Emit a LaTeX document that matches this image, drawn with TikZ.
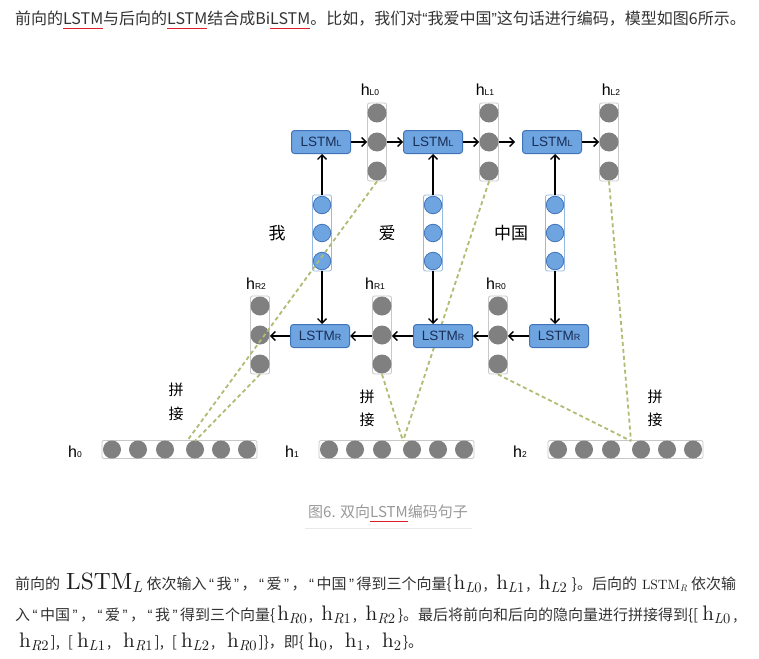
\documentclass[tikz,border=0pt]{standalone}
\usepackage{fontspec}
\newfontfamily\arial{Liberation Sans}
\newfontfamily\cjk{Noto Sans CJK SC}
\newfontfamily\lmr{lmroman10-regular.otf}[ItalicFont=lmroman10-italic.otf]
\usetikzlibrary{arrows.meta}
\definecolor{gcirc}{RGB}{128,128,128}
\definecolor{gline}{RGB}{200,200,200}
\definecolor{bfill}{RGB}{110,165,225}
\definecolor{bdraw}{RGB}{65,115,185}
\definecolor{bcol}{RGB}{150,185,225}
\definecolor{btext}{RGB}{25,45,85}
\definecolor{dashc}{RGB}{175,188,115}
\definecolor{txt}{RGB}{51,51,51}
\definecolor{mtxt}{RGB}{30,30,30}
\definecolor{capc}{RGB}{153,153,153}
\definecolor{capl}{RGB}{232,232,232}
\definecolor{ulred}{RGB}{220,30,40}
\newsavebox\myulbox
\newcommand\myul[1]{\sbox\myulbox{#1}\rlap{\textcolor{ulred}{\rule[-4.5pt]{\wd\myulbox}{0.9pt}}}\usebox\myulbox}
\newcommand\oq{{\arial “}}
\newcommand\cq{{\arial ”}}
\newcommand\poq{\makebox[10pt][c]{\arial “}}
\newcommand\pcq{\makebox[10pt][c]{\arial ”}}
\newcommand\hlab[1]{{\fontsize{16}{16}\selectfont h}{\fontsize{8.5}{9}\selectfont #1}}
\newcommand\lstmlab[1]{{\fontsize{13.5}{14}\selectfont LSTM}{\fontsize{9}{9}\selectfont #1}}
\newcommand\hv[1]{{\color{mtxt}\lmr\fontsize{21}{21}\selectfont h\raisebox{-3.5pt}{\fontsize{14.5}{14.5}\selectfont #1}}}
\newcommand\hvi[2]{\hv{\textit{#1}#2}}
\newcommand\lstmv[4]{{\color{mtxt}\lmr\fontsize{#1}{#1}\selectfont LSTM\raisebox{#4}{\fontsize{#2}{#2}\selectfont\textit{#3}}}}
\newcommand\cm{\hspace{2pt},\hspace{8.5pt}}
\newcommand\cmb{\hspace{2pt},\hspace{12pt}}
\tikzset{
  gcircle/.style={circle, fill=gcirc, minimum size=19pt, inner sep=0pt},
  bcircle/.style={circle, fill=bfill, draw=bdraw, line width=0.8pt, minimum size=17.5pt, inner sep=0pt},
  gcolumn/.style={draw=gline, line width=0.8pt, rounded corners=2pt, minimum width=19pt, minimum height=78pt, inner sep=0pt},
  bcolumn/.style={draw=bcol, line width=0.8pt, rounded corners=2pt, minimum width=19pt, minimum height=76pt, inner sep=0pt},
  lbox/.style={draw=bdraw, fill=bfill, line width=1pt, rounded corners=3pt, minimum width=59pt, minimum height=23pt, inner sep=0pt, text=btext, font=\arial},
  arr/.style={-{Straight Barb[length=4.5pt,width=9pt]}, line width=1.4pt},
  dsh/.style={draw=dashc, line width=1.8pt, dash pattern=on 4pt off 3pt},
  hbar/.style={draw=gline, line width=0.8pt, rounded corners=2pt, minimum width=155pt, minimum height=18pt, inner sep=0pt},
  bcirc/.style={circle, fill=gcirc, minimum size=18pt, inner sep=0pt},
  hlabel/.style={font=\arial, inner sep=0pt},
  word/.style={font=\cjk\fontsize{17}{17}\selectfont, inner sep=0pt},
  pj/.style={font=\cjk\fontsize{15}{15}\selectfont, inner sep=0pt},
  para/.style={font=\cjk\fontsize{15}{15}\selectfont, text=txt, inner sep=0pt, anchor=base west}
}
\begin{document}
\begin{tikzpicture}[x=1pt,y=-1pt]
\fill[white] (0,0) rectangle (759,658);
\useasboundingbox (0,0) rectangle (759,658);

% top text
\node[anchor=west, inner sep=0pt, text=txt, font=\cjk\fontsize{16}{16}\selectfont] (top) at (15,19.5) {前向的\myul{LSTM}与后向的\myul{LSTM}结合成Bi\myul{LSTM}。比如，我们对\oq 我爱中国\cq 这句话进行编码，模型如图6所示。};

% top hidden columns
\foreach \n/\x in {L0/377, L1/489, L2/609} {
  \node[gcolumn] (c\n) at (\x,142) {};
  \node[gcircle] (c\n-1) at (\x,113) {};
  \node[gcircle] (c\n-2) at (\x,142) {};
  \node[gcircle] (c\n-3) at (\x,171) {};
}
% bottom hidden columns
\foreach \n/\x in {R2/260, R1/382, R0/498} {
  \node[gcolumn] (c\n) at (\x,335) {};
  \node[gcircle] (c\n-1) at (\x,306) {};
  \node[gcircle] (c\n-2) at (\x,335) {};
  \node[gcircle] (c\n-3) at (\x,364) {};
}
% input columns
\foreach \n/\x in {1/322, 2/433, 3/555} {
  \node[bcolumn] (in\n) at (\x,233) {};
  \node[bcircle] (in\n-1) at (\x,205) {};
  \node[bcircle] (in\n-2) at (\x,233) {};
  \node[bcircle] (in\n-3) at (\x,261) {};
}

% labels
\node[hlabel] (lL0) at (370,90) {\hlab{L0}};
\node[hlabel] (lL1) at (485,90) {\hlab{L1}};
\node[hlabel] (lL2) at (611,90) {\hlab{L2}};
\node[hlabel] (lR2) at (256,284) {\hlab{R2}};
\node[hlabel] (lR1) at (375,284) {\hlab{R1}};
\node[hlabel] (lR0) at (496,284) {\hlab{R0}};

\node[word] (w1) at (277,233) {我};
\node[word] (w2) at (387,233) {爱};
\node[word] (w3) at (511,233) {中国};

% output bars
\foreach \n/\l in {0/102, 1/319, 2/548} {
  \node[hbar] (h\n) at (\l+77.5,449.5) {};
  \foreach \k/\o in {1/10, 2/36, 3/63, 4/93, 5/119, 6/145} {
    \node[bcirc] (h\n-\k) at (\l+\o,449.5) {};
  }
}
\node[hlabel] (lh0) at (75,452) {\hlab{0}};
\node[hlabel] (lh1) at (292,452) {\hlab{1}};
\node[hlabel] (lh2) at (520,452) {\hlab{2}};

\node[pj] (pj0a) at (176,390) {拼};
\node[pj] (pj0b) at (176,414) {接};
\node[pj] (pj1a) at (367,397) {拼};
\node[pj] (pj1b) at (367,420) {接};
\node[pj] (pj2a) at (655,397) {拼};
\node[pj] (pj2b) at (655,420) {接};

% dashed concatenation lines
\coordinate (m0a) at (187,441);
\coordinate (m0b) at (195,441);
\coordinate (m1) at (403,441);
\coordinate (m2) at (631,441);
\draw[dsh] (cL0.south) -- (m0a);
\draw[dsh] (cR2.south) -- (m0b);
\draw[dsh] (cL1.south) -- (m1);
\draw[dsh] (cR1.south) -- (m1);
\draw[dsh] (cL2.south) -- (m2);
\draw[dsh] (cR0.south) -- (m2);

% LSTM boxes
\node[lbox] (bL1) at (321,142) {\lstmlab{L}};
\node[lbox] (bL2) at (433,142) {\lstmlab{L}};
\node[lbox] (bL3) at (552,142) {\lstmlab{L}};
\node[lbox] (bR1) at (320,336) {\lstmlab{R}};
\node[lbox] (bR2) at (443,336) {\lstmlab{R}};
\node[lbox] (bR3) at (559,336) {\lstmlab{R}};

% arrows forward
\coordinate (tipL1) at (515,142);
\draw[arr] (bL1.east) -- (cL0.west);
\draw[arr] (cL0.east) -- (bL2.west);
\draw[arr] (bL2.east) -- (cL1.west);
\draw[arr] (cL1.east) -- (tipL1);
\draw[arr] (bL3.east) -- (cL2.west);
% arrows backward
\draw[arr] (bR3.west) -- (cR0.east |- bR3.west);
\draw[arr] (cR0.west |- bR2.east) -- (bR2.east);
\draw[arr] (bR2.west) -- (cR1.east |- bR2.west);
\draw[arr] (cR1.west |- bR1.east) -- (bR1.east);
\draw[arr] (bR1.west) -- (cR2.east |- bR1.west);
% input arrows
\draw[arr] (in1.north) -- (in1.north |- bL1.south);
\draw[arr] (in2.north) -- (in2.north |- bL2.south);
\draw[arr] (in3.north) -- (in3.north |- bL3.south);
\draw[arr] (in1.south) -- (in1.south |- bR1.north);
\draw[arr] (in2.south) -- (in2.south |- bR2.north);
\draw[arr] (in3.south) -- (in3.south |- bR3.north);

% caption
\node[font=\cjk\fontsize{15}{15}\selectfont, text=capc, inner sep=0pt] (cap) at (388,513) {图6. 双向\myul{LSTM}编码句子};
\draw[capl, line width=1pt] (305,528) -- (472,528);

% paragraph
\node[para] (p1) at (15,589) {前向的\hspace{6pt}\lstmv{23.5}{16}{L}{-3.5pt}\hspace{4pt}依次输入\poq 我\pcq ，\poq 爱\pcq ，\poq 中国\pcq 得到三个向量\{\hspace{2pt}\hvi{L}{0}\cm\hvi{L}{1}\cm\hvi{L}{2}\hspace{5pt}\}。后向的\hspace{5pt}\lstmv{13.5}{9.5}{R}{-2pt}\hspace{4pt}依次输};
\node[para] (p2) at (15,620) {入\poq 中国\pcq ，\poq 爱\pcq ，\poq 我\pcq 得到三个向量\{\hspace{2pt}\hvi{R}{0}\cm\hvi{R}{1}\cm\hvi{R}{2}\hspace{3pt}\}。最后将前向和后向的隐向量进行拼接得到\{[\hspace{4pt}\hvi{L}{0}\hspace{3pt},};
\node[para] (p3) at (19,647) {\hvi{R}{2}\hspace{2pt}],\hspace{8pt}[\hspace{4pt}\hvi{L}{1}\cmb\hvi{R}{1}\hspace{2pt}],\hspace{8pt}[\hspace{4pt}\hvi{L}{2}\cmb\hvi{R}{0}\hspace{2pt}]\}，即\{\hspace{4pt}\hv{0}\cmb\hv{1}\cmb\hv{2}\hspace{2pt}\}。};
\end{tikzpicture}
\end{document}
